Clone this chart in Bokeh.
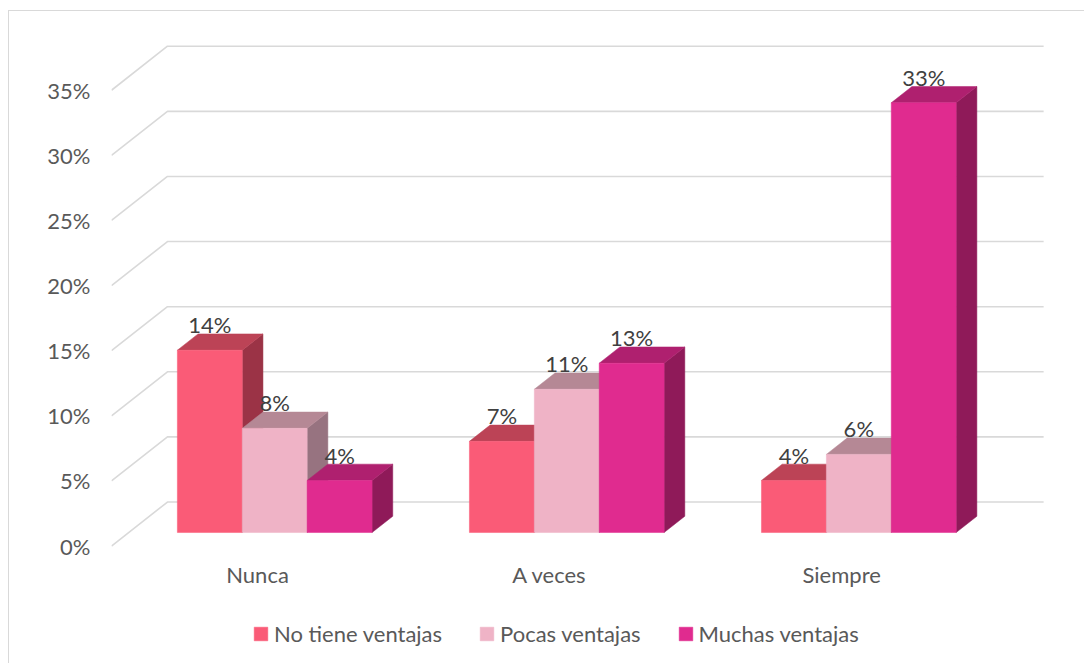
from bokeh.plotting import figure
from bokeh.models import FixedTicker, Legend, LegendItem, Range1d, PrintfTickFormatter
from bokeh.core.properties import value
from bokeh.embed import file_html
from bokeh.resources import INLINE

# ---- data ----
categories = ["Nunca", "A veces", "Siempre"]
series_names = ["No tiene ventajas", "Pocas ventajas", "Muchas ventajas"]
no_tiene = [14, 7, 4]
pocas = [8, 11, 6]
muchas = [4, 13, 33]
y_ticks = [0, 5, 10, 15, 20, 25, 30, 35]

# ---- style ----
front_colors = ["#FA5B77", "#EFB3C6", "#E02B8F"]
top_colors = ["#BC4356", "#B58895", "#AF206F"]
side_colors = ["#9B3346", "#977380", "#8F1A59"]
FONT = "Lato"
TXT = "#595959"

# 3D geometry (data units)
DXB = 0.1916   # back wall x shift (category units)
DYB = 3.38     # back wall y shift (% units)
F0 = 0.307     # bar front depth fraction
FD = 0.37      # bar depth fraction
BW = 0.2222    # bar width
CAT_Y = -2.2   # category label row
LBL_OFF = 0.7  # data label lift above bar top

n = len(categories)
x_end = n + DXB

p = figure(width=1076, height=653, x_range=Range1d(0, x_end + 0.003), y_range=Range1d(-8.79, 38.59),
           output_backend="svg", toolbar_location=None, x_axis_location=None,
           min_border_left=102, min_border_right=41, min_border_top=32, min_border_bottom=4)
p.styles = {"border-left": "1px solid #D9D9D9", "border-top": "1px solid #D9D9D9",
            "margin-left": "8px", "margin-top": "10px"}
p.outline_line_color = None
p.grid.visible = False
p.background_fill_color = "white"
p.border_fill_color = "white"

# gridlines (front diagonal + back wall)
gx, gy = [], []
for v in y_ticks:
    gx.append([0, DXB, x_end])
    gy.append([v, v + DYB, v + DYB])
p.multi_line(gx, gy, line_color="#D9D9D9", line_width=1.6)

# bars
base = F0 * DYB
sx = F0 * DXB
ddx = FD * DXB
ddy = FD * DYB
legend_items = []
for j, vals in enumerate([no_tiene, pocas, muchas]):
    xl = [i + 0.5 + (j - 1.5) * BW + sx for i in range(n)]
    xr = [a + BW for a in xl]
    tops = [base + v for v in vals]
    side_xs = [[r, r + ddx, r + ddx, r] for r in xr]
    side_ys = [[base, base + ddy, t + ddy, t] for t in tops]
    p.patches(side_xs, side_ys, fill_color=side_colors[j], line_color=side_colors[j], line_width=0.5)
    top_xs = [[l, r, r + ddx, l + ddx] for l, r in zip(xl, xr)]
    top_ys = [[t, t, t + ddy, t + ddy] for t in tops]
    p.patches(top_xs, top_ys, fill_color=top_colors[j], line_color=top_colors[j], line_width=0.5)
    fr = p.quad(left=xl, right=xr, bottom=[base] * n, top=tops,
                fill_color=front_colors[j], line_color=front_colors[j], line_width=0.5)
    legend_items.append(LegendItem(label=series_names[j], renderers=[fr]))
    p.text(x=[(l + r) / 2 for l, r in zip(xl, xr)], y=[t + ddy + LBL_OFF for t in tops],
           text=[f"{v}%" for v in vals], text_align="center", text_baseline="alphabetic",
           text_font=value(FONT), text_font_size="22px", text_color="#404040")

# category labels
p.text(x=[i + 0.5 for i in range(n)], y=[CAT_Y] * n, text=categories,
       text_align="center", text_baseline="middle",
       text_font=value(FONT), text_font_size="22px", text_color=TXT)

# y axis
p.yaxis.ticker = FixedTicker(ticks=y_ticks)
p.yaxis.formatter = PrintfTickFormatter(format="%d%%")
p.yaxis.axis_line_color = None
p.yaxis.major_tick_line_color = None
p.yaxis.minor_tick_line_color = None
p.yaxis.major_tick_out = 0
p.yaxis.minor_tick_out = 0
p.yaxis.major_label_standoff = 21
p.yaxis.major_label_text_font = FONT
p.yaxis.major_label_text_font_size = "22px"
p.yaxis.major_label_text_color = TXT

legend = Legend(items=legend_items, orientation="horizontal", location=(141, 13),
                glyph_width=17, glyph_height=17, label_standoff=5, spacing=36,
                padding=0, margin=0, border_line_color=None, background_fill_alpha=0,
                label_text_font=FONT, label_text_font_size="22px", label_text_color=TXT)
p.add_layout(legend, "center")

open("out.html", "w").write(file_html(p, INLINE))
